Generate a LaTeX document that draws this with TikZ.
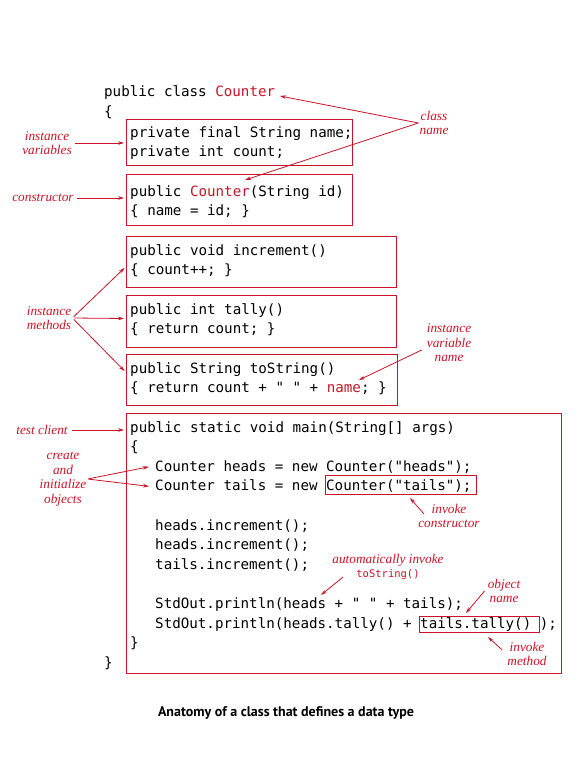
\documentclass[tikz,border=0pt]{standalone}
\usepackage{fontspec}
\setmonofont{DejaVu Sans Mono}
\newfontfamily\capfont{PT Sans}
\newfontfamily\notefont{Liberation Serif}
\usepackage{xcolor}
\usepackage{tikz}
\usetikzlibrary{arrows.meta}
\definecolor{cRed}{RGB}{200,20,40}

\begin{document}
\begin{tikzpicture}[x=1pt, y=-1pt,
  code/.style={anchor=base west, inner sep=0pt, font=\ttfamily\fontsize{14.2}{17}\selectfont},
  codebox/.style={draw=cRed, line width=1pt, anchor=north west, inner sep=0pt},
  note/.style={text=cRed, align=center, inner sep=1pt, font=\notefont\itshape\fontsize{13.3}{14.5}\selectfont},
  callout/.style={draw=cRed, line width=0.8pt, -{Stealth[length=6pt,width=3.6pt]}}]
  \path[fill=white] (0,0) rectangle (580,765);
  \useasboundingbox (0,0) rectangle (580,765);

  % Class header
  \node[code] (ttl) at (104,97) {public class {\color{cRed}Counter}};
  \node[code] (obr) at (104,117) {\{};

  % Instance variables
  \node[codebox, minimum width=226pt, minimum height=46pt] (vars) at (126,119) {};
  \node[code] (v1) at (130,137) {private final String name;};
  \node[code] (v2) at (130,156) {private int count;};

  % Constructor
  \node[codebox, minimum width=226pt, minimum height=51pt] (ctor) at (126,174) {};
  \node[code] (c1) at (130,196) {public {\color{cRed}Counter}(String id)};
  \node[code] (c2) at (130,215) {\{ name = id; \}};

  % Instance methods
  \node[codebox, minimum width=270pt, minimum height=51pt] (inc) at (126,236) {};
  \node[code] (i1) at (130,255) {public void increment()};
  \node[code] (i2) at (130,274) {\{ count++; \}};
  \node[codebox, minimum width=270pt, minimum height=52pt] (tal) at (126,295) {};
  \node[code] (t1) at (130,314) {public int tally()};
  \node[code] (t2) at (130,333) {\{ return count; \}};
  \node[codebox, minimum width=271pt, minimum height=51pt] (tos) at (126,354) {};
  \node[code] (s1) at (130,373) {public String toString()};
  \node[code] (s2) at (130,392) {\{ return count + " " + {\color{cRed}name}; \}};

  % Test client
  \node[codebox, minimum width=435pt, minimum height=260pt] (mainbox) at (126,413) {};
  \node[code] (m1) at (130,432) {public static void main(String[] args)};
  \node[code] (m2) at (130,451.6) {\{};
  \node[code] (hd) at (155,471.2) {Counter heads = new Counter("heads");};
  \node[code] (tl) at (155,490.8) {Counter tails = new Counter("tails");};
  \node[code] (m5) at (155,530) {heads.increment();};
  \node[code] (m6) at (155,549.6) {heads.increment();};
  \node[code] (m7) at (155,569.2) {tails.increment();};
  \node[code] (p1) at (155,608.4) {StdOut.println(heads + " " + tails);};
  \node[code] (p2) at (155,628) {StdOut.println(heads.tally() + tails.tally() );};
  \node[code] (m8) at (130,647.6) {\}};
  \node[code] (cbr) at (104,667.2) {\}};

  % boxed calls
  \node[codebox, minimum width=151pt, minimum height=19pt] (ctorcall) at (325,475) {};
  \node[codebox, minimum width=120pt, minimum height=16pt] (tallycall) at (419,616) {};

  % Arrow tips on the code
  \coordinate (ttlname) at (280,96);
  \coordinate (ctorname) at (245,180);
  \coordinate (namewd) at (359,380);
  \coordinate (ctortip) at (410,498);
  \coordinate (headstip) at (321,595);
  \coordinate (objtip) at (466,613);
  \coordinate (tallytip) at (488,637);

  % Notes
  \node[note] (clsname) at (434,123) {class\\name};
  \draw[callout] (clsname.west) -- (ttlname);
  \draw[callout] (clsname.west) -- (ctorname);

  \node[note] (ivars) at (47,143) {instance\\variables};
  \draw[callout, shorten <=2pt, shorten >=2pt] (ivars.east) -- (ivars.east -| vars.west);

  \node[note] (ctorlbl) at (43,198) {constructor};
  \draw[callout, shorten <=2pt, shorten >=2pt] (ctorlbl.east) -- (ctorlbl.east -| ctor.west);

  \node[note] (imeth) at (49,318) {instance\\methods};
  \draw[callout, shorten <=2pt, shorten >=2pt] (imeth.east) -- ([yshift=-4.5pt]inc.west);
  \draw[callout, shorten <=2pt, shorten >=2pt] (imeth.east) -- ([yshift=3pt]tal.west);
  \draw[callout, shorten <=2pt, shorten >=2pt] (imeth.east) -- ([yshift=7.5pt]tos.west);

  \node[note] (ivname) at (449,343) {instance\\variable\\name};
  \draw[callout] ([shift={(-4pt,-7pt)}]ivname.west) -- (namewd);

  \node[note] (tclient) at (42,430) {test client};
  \draw[callout, shorten <=3pt, shorten >=2pt] (tclient.east) -- (tclient.east -| mainbox.west);

  \node[note] (mkobj) at (63,479) {create\\and\\initialize\\objects};
  \draw[callout, shorten <=1pt] (mkobj.east) -- ([xshift=-6pt]hd.west);
  \draw[callout, shorten <=1pt] (mkobj.east) -- ([xshift=-6pt]tl.west);

  \node[note] (invctor) at (449,516) {invoke\\constructor};
  \draw[callout] ([shift={(-25pt,2pt)}]invctor.center) -- (ctortip);

  \node[note] (autoinv) at (388,567) {automatically invoke\\{\upshape\ttfamily\fontsize{10.5}{13}\selectfont toString()}};
  \draw[callout] ([shift={(-45pt,-10pt)}]autoinv.center) -- (headstip);

  \node[note] (objname) at (504,591) {object\\name};
  \draw[callout] ([xshift=-2pt]objname.west) -- (objtip);

  \node[note] (invmeth) at (527,654) {invoke\\method};
  \draw[callout] ([shift={(-4pt,4pt)}]invmeth.west) -- (tallytip);

  % Caption
  \node[font=\capfont\bfseries\fontsize{14}{16}\selectfont] (cap) at (286,713) {Anatomy of a class that defines a data type};
\end{tikzpicture}
\end{document}
